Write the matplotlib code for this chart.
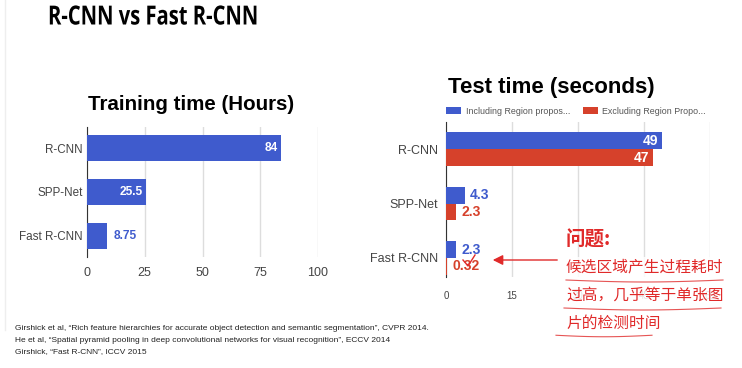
import matplotlib
matplotlib.use("Agg")
import matplotlib.pyplot as plt
from matplotlib.patches import FancyArrowPatch
from matplotlib.lines import Line2D
from matplotlib.patheffects import AbstractPathEffect
from matplotlib.transforms import Affine2D
from matplotlib import font_manager as fm
import numpy as np

plt.rcParams['font.family'] = ['Liberation Sans', 'DejaVu Sans']

categories = ["R-CNN", "SPP-Net", "Fast R-CNN"]
train_hours = [84, 25.5, 8.75]
train_labels = ["84", "25.5", "8.75"]
test_incl = [49, 4.3, 2.3]
test_excl = [47, 2.3, 0.32]
test_incl_labels = ["49", "4.3", "2.3"]
test_excl_labels = ["47", "2.3", "0.32"]
train_ticks = [0, 25, 50, 75, 100]
test_ticks = [0, 15, 30, 45, 60]
legend_labels = ["Including Region propos...", "Excluding Region Propo..."]
refs = [
    "Girshick et al, \u201cRich feature hierarchies for accurate object detection and semantic segmentation\u201d, CVPR 2014.",
    "He et al, \u201cSpatial pyramid pooling in deep convolutional networks for visual recognition\u201d, ECCV 2014",
    "Girshick, \u201cFast R-CNN\u201d, ICCV 2015",
]
note_title = "问题:"
note_lines = ["候选区域产生过程耗时", "过高，几乎等于单张图", "片的检测时间"]

BLUE = "#3f5bcd"
RED = "#d6412b"
NOTE_RED = "#e02a2a"
W, H = 742, 368
DPI = 100
fig = plt.figure(figsize=(W / DPI, H / DPI), dpi=DPI)
fig.patch.set_facecolor("white")

def fx(px):
    return np.asarray(px) / W

def fy(py):
    return 1 - np.asarray(py) / H


class HScale(AbstractPathEffect):
    """Horizontally condense the glyphs of a text about a display x position."""
    def __init__(self, sx, x0):
        super().__init__()
        self.sx = sx
        self.x0 = x0

    def draw_path(self, renderer, gc, tpath, affine, rgbFace=None):
        aff = affine + Affine2D().translate(-self.x0, 0).scale(self.sx, 1).translate(self.x0, 0)
        renderer.draw_path(gc, tpath, aff, rgbFace)


# slide border line on the left
fig.add_artist(Line2D([fx(5), fx(5)], [fy(0), fy(330)], color="#eeeeee", lw=1))

# main title (condensed bold look)
title = fig.text(fx(48), fy(17), "R-CNN vs Fast R-CNN", fontsize=19, fontweight="bold",
                 family=["Open Sans", "DejaVu Sans"], va="center", ha="left", color="black")
fig.canvas.draw()
bb = title.get_window_extent()
sx = 210.0 / bb.width
title.set_path_effects([HScale(sx, bb.x0)])

# ---------- Training chart ----------
ax1 = fig.add_axes([fx(87), fy(257), fx(318) - fx(87), (257 - 127) / H])
y = np.arange(len(categories))
ax1.barh(y, train_hours, height=0.61, color=BLUE, zorder=3)
ax1.set_xlim(0, 100)
ax1.set_ylim(2.48, -0.48)
ax1.set_xticks(train_ticks)
ax1.set_xticklabels([str(t) for t in train_ticks])
ax1.set_yticks(y)
ax1.set_yticklabels(categories)
ax1.grid(axis="x", color="#dddddd", lw=1, zorder=0)
for s in ["top", "right", "bottom"]:
    ax1.spines[s].set_visible(False)
ax1.spines["left"].set_color("#333333")
ax1.tick_params(axis="both", length=0, colors="#444444")
ax1.tick_params(axis="x", labelsize=9, pad=7)
ax1.tick_params(axis="y", labelsize=8.4, pad=3)
for i, (v, lab) in enumerate(zip(train_hours, train_labels)):
    if v > 20:
        ax1.text(v - 1.5, i, lab, ha="right", va="center", color="white", fontsize=8.6, fontweight="bold", zorder=4)
    else:
        ax1.text(v + 2.8, i, lab, ha="left", va="center", color=BLUE, fontsize=8.6, fontweight="bold", zorder=4)
fig.text(fx(191), fy(105), "Training time (Hours)", fontsize=14.8, fontweight="bold", ha="center", va="center")

# ---------- Test chart ----------
ax2 = fig.add_axes([fx(446), fy(277), fx(710) - fx(446), (277 - 122) / H])
bh = 0.31
ax2.barh(y - bh / 2, test_incl, height=bh, color=BLUE, zorder=3, label=legend_labels[0])
ax2.barh(y + bh / 2, test_excl, height=bh, color=RED, zorder=3, label=legend_labels[1])
ax2.set_xlim(0, 60)
ax2.set_ylim(2.35, -0.5)
ax2.set_xticks(test_ticks)
ax2.set_xticklabels([str(t) for t in test_ticks])
ax2.set_yticks(y)
ax2.set_yticklabels(categories)
ax2.grid(axis="x", color="#dddddd", lw=1, zorder=0)
for s in ["top", "right", "bottom"]:
    ax2.spines[s].set_visible(False)
ax2.spines["left"].set_color("#333333")
ax2.tick_params(axis="both", length=0, colors="#444444")
ax2.tick_params(axis="x", labelsize=7, pad=10)
ax2.tick_params(axis="y", labelsize=9, pad=6)
for vals, labs, col, off in [(test_incl, test_incl_labels, BLUE, -bh / 2), (test_excl, test_excl_labels, RED, bh / 2)]:
    for i, (v, lab) in enumerate(zip(vals, labs)):
        if v > 20:
            ax2.text(v - 0.8, i + off, lab, ha="right", va="center", color="white", fontsize=10, fontweight="bold", zorder=4)
        else:
            ax2.text(v + 1.2, i + off, lab, ha="left", va="center", color=col, fontsize=10, fontweight="bold", zorder=4)
fig.text(fx(551), fy(88), "Test time (seconds)", fontsize=16, fontweight="bold", ha="center", va="center")
leg = ax2.legend(loc="center left", bbox_to_anchor=(-0.012, 1 + 11 / 155), ncol=2, frameon=False, fontsize=6.4,
                 handlelength=1.7, handleheight=0.9, columnspacing=1.4, handletextpad=0.5, borderaxespad=0)
for t in leg.get_texts():
    t.set_color("#555555")

# ---------- Annotation ----------
cjk = ["Noto Sans CJK SC", "DejaVu Sans"]
fig.text(fx(566), fy(240), note_title, fontsize=14, fontweight="bold", color=NOTE_RED, family=cjk, va="center", ha="left")
for k, line in enumerate(note_lines):
    fig.text(fx(566), fy(267 + 28 * k), line, fontsize=11.3, color=NOTE_RED, family=cjk, va="center", ha="left",
             bbox=dict(boxstyle="square,pad=0.1", fc="white", ec="none", alpha=0.85))
# arrow
fig.add_artist(FancyArrowPatch((fx(560), fy(260)), (fx(490), fy(260)), transform=fig.transFigure,
                               arrowstyle="-|>,head_length=6,head_width=3", color=NOTE_RED, lw=1))
# check mark
fig.add_artist(Line2D(fx([463, 468, 475]), fy([260, 266, 255]), color=NOTE_RED, lw=1.0))
# handwritten underlines
for x0, x1, yy, amp in [(566, 723, 281, 2), (564, 721, 309, 2), (556, 652, 336, 1.5)]:
    xs = np.linspace(x0, x1, 40)
    ys = yy + amp * np.sin((xs - x0) / (x1 - x0) * np.pi) - amp * 0.5
    fig.add_artist(Line2D(fx(xs), fy(ys), color=NOTE_RED, lw=0.8, alpha=0.8))

# ---------- References ----------
for k, r in enumerate(refs):
    fig.text(fx(15), fy(329 + 11.5 * k), r, fontsize=6.0, color="#222222", va="center", ha="left")

fig.savefig("out.png", dpi=DPI, facecolor="white")
